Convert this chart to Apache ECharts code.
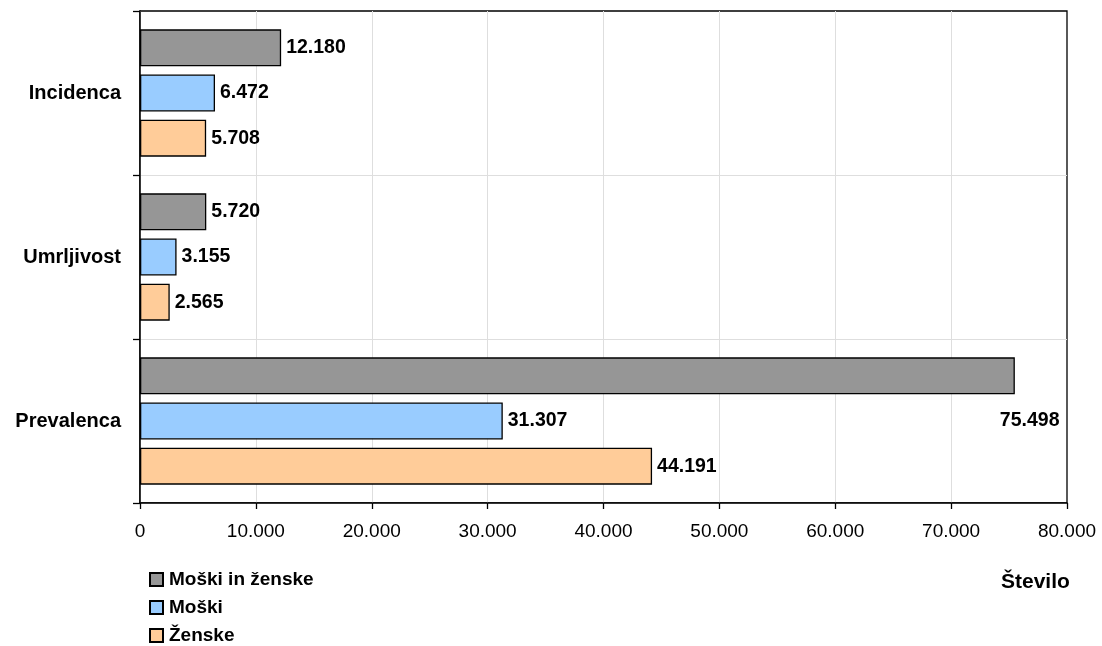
<!DOCTYPE html>
<html>
<head>
<meta charset="utf-8">
<script src="https://cdn.jsdelivr.net/npm/echarts@6/dist/echarts.min.js"></script>
<style>
  html, body { margin: 0; padding: 0; background: #fff; }
  #chart { width: 1102px; height: 646px; }
</style>
</head>
<body>
<div id="chart"></div>
<script>
// Kategorije (od zgoraj navzdol)
const categories = ['Incidenca', 'Umrljivost', 'Prevalenca'];
// Vrednosti po skupinah
const seriesNames = ['Moški in ženske', 'Moški', 'Ženske'];
const valuesAll = [12180, 5720, 75498];
const valuesMen = [6472, 3155, 31307];
const valuesWomen = [5708, 2565, 44191];
const seriesColors = ['#969696', '#99CCFF', '#FFCC99'];
// Oznake osi X
const xMax = 80000;
const xStep = 10000;
const xAxisName = 'Število';

const FONT = '"Liberation Sans", Arial, sans-serif';

function fmt(v) {
  return String(Math.round(v)).replace(/\B(?=(\d{3})+(?!\d))/g, '.');
}

const valueLabel = {
  show: true,
  position: 'right',
  distance: 5,
  fontFamily: FONT,
  fontWeight: 'bold',
  fontSize: 19.5,
  color: '#000',
  formatter: p => fmt(p.value)
};

function makeSeries(name, values, color, idx) {
  return {
    name: name,
    type: 'bar',
    barWidth: 37,
    barGap: '22%',
    itemStyle: { color: color, borderColor: '#000', borderWidth: 1.3 },
    label: valueLabel,
    data: values.map((v, i) => {
      // oznaka najdaljšega stolpca je zamaknjena pod stolpec
      if (idx === 0 && i === 2) {
        return { value: v, label: { offset: [-20, 45] } };
      }
      return v;
    })
  };
}

const chart = echarts.init(document.getElementById('chart'), null, { renderer: 'canvas' });
chart.setOption({
  animation: false,
  backgroundColor: '#fff',
  grid: {
    left: 140, top: 11, right: 35, bottom: 143,
    show: true, borderColor: '#000', borderWidth: 1.3
  },
  xAxis: {
    type: 'value',
    min: 0, max: xMax, interval: xStep,
    axisLine: { show: true, lineStyle: { color: '#000', width: 1.5 } },
    axisTick: { show: true, length: 6, lineStyle: { color: '#000', width: 1.3 } },
    axisLabel: {
      margin: 19, fontFamily: FONT, fontSize: 19, color: '#000',
      formatter: v => fmt(v)
    },
    splitLine: { show: true, showMaxLine: false, lineStyle: { color: '#dedede', width: 1 } }
  },
  yAxis: {
    type: 'category',
    inverse: true,
    data: categories,
    axisLine: { show: true, lineStyle: { color: '#000', width: 1.5 } },
    axisTick: { show: true, length: 7, lineStyle: { color: '#000', width: 1.3 } },
    axisLabel: {
      margin: 19, fontFamily: FONT, fontSize: 20, fontWeight: 'bold', color: '#000'
    },
    splitLine: { show: true, showMinLine: false, lineStyle: { color: '#dedede', width: 1 } }
  },
  legend: {
    orient: 'vertical',
    left: 149, top: 570,
    padding: 0,
    itemGap: 9,
    itemWidth: 13, itemHeight: 13,
    icon: 'rect',
    textStyle: { fontFamily: FONT, fontWeight: 'bold', fontSize: 19, color: '#000', padding: [0, 0, 0, 1] },
    data: seriesNames
  },
  graphic: [{
    type: 'text',
    left: 1001, top: 572,
    style: { text: xAxisName, fontFamily: FONT, fontWeight: 'bold', fontSize: 21, fill: '#000' }
  }],
  series: [
    makeSeries(seriesNames[0], valuesAll, seriesColors[0], 0),
    makeSeries(seriesNames[1], valuesMen, seriesColors[1], 1),
    makeSeries(seriesNames[2], valuesWomen, seriesColors[2], 2)
  ]
});
</script>
</body>
</html>
